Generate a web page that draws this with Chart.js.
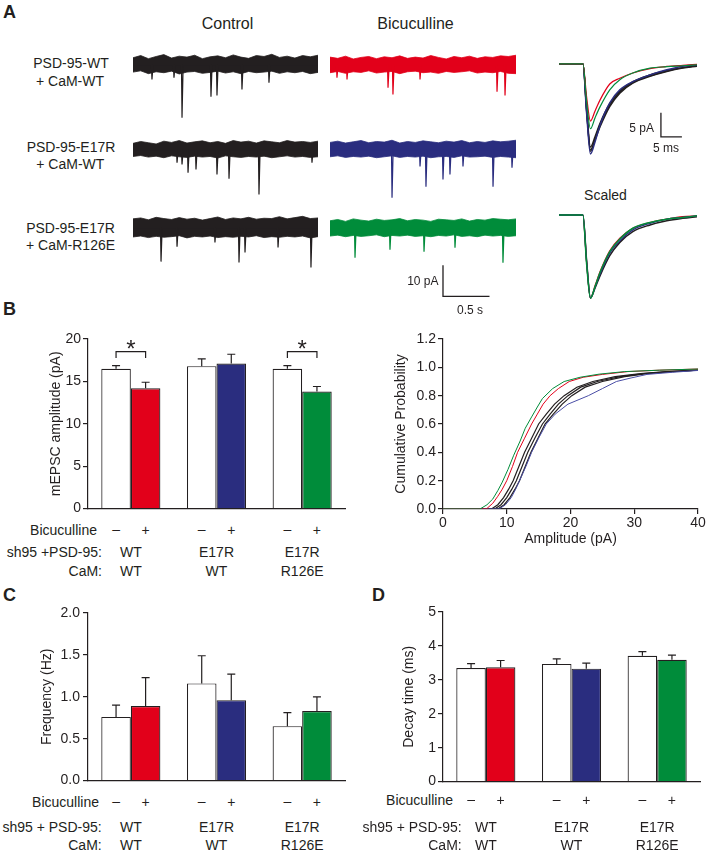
<!DOCTYPE html>
<html><head><meta charset="utf-8">
<script src="https://cdn.jsdelivr.net/npm/chart.js@4.4.1/dist/chart.umd.min.js"></script>
<style>
html,body{margin:0;padding:0;background:#fff;}
#fig{position:relative;width:709px;height:854px;overflow:hidden;font-family:"Liberation Sans",Arial,sans-serif;color:#231f20;background:#fff;}
#fig canvas{position:absolute;}
.t{position:absolute;line-height:1;white-space:nowrap;}
</style></head><body><div id="fig"></div>
<script>
// ---------------- DATA ----------------
const groupPSD = ['WT', 'E17R', 'E17R'];
const groupCaM = ['WT', 'WT', 'R126E'];
const bicSigns = ['\u2013', '+'];
const bicColors = ['#e2001a', '#2a2d7f', '#008c3a'];

// B: mEPSC amplitude (pA)
const ampCtrl = [16.5, 16.8, 16.5];
const ampBic = [14.2, 17.1, 13.8];
const ampCtrlErr = [0.35, 0.85, 0.35];
const ampBicErr = [0.7, 1.1, 0.6];
const sigGroups = [0, 2];
const sigBracketTop = 18.5, sigBracketLeg = 17.75;

// C: frequency (Hz)
const freqCtrl = [0.76, 1.16, 0.65];
const freqBic = [0.89, 0.96, 0.83];
const freqCtrlErr = [0.14, 0.33, 0.16];
const freqBicErr = [0.34, 0.31, 0.17];

// D: decay time (ms)
const decayCtrl = [3.35, 3.47, 3.71];
const decayBic = [3.37, 3.33, 3.59];
const decayCtrlErr = [0.13, 0.15, 0.12];
const decayBicErr = [0.2, 0.16, 0.14];

// B right: cumulative probability curves (amplitude pA, probability)
const cdfGreenX = [0,5.8,6.9,7.8,8.6,9.3,10.2,11.1,12.1,12.9,13.9,14.8,15.6,17.2,19.0,21.5,24.5,28.5,34,40];
const cdfGreenY = [0,0,0.03,0.07,0.13,0.19,0.28,0.38,0.48,0.57,0.65,0.72,0.78,0.85,0.9,0.93,0.952,0.97,0.98,0.988];
const cdfRedX = [0,6.8,7.8,8.6,9.3,10.0,10.9,11.7,12.8,13.9,14.8,15.7,16.8,18.1,19.8,22,25,29,34,40];
const cdfRedY = [0,0,0.04,0.09,0.14,0.2,0.3,0.4,0.5,0.6,0.67,0.74,0.8,0.85,0.9,0.93,0.95,0.97,0.98,0.988];
const cdfBlueX = [0,8.8,9.8,10.7,11.4,12.0,13.0,13.9,15.0,16.2,17.6,19.6,22.8,25.0,27.2,29.5,32,36,40];
const cdfBlueY = [0,0,0.03,0.08,0.14,0.2,0.3,0.4,0.5,0.6,0.67,0.74,0.8,0.85,0.9,0.925,0.95,0.965,0.978];
const cdfBlackAX = [0,7.6,8.6,9.5,10.3,11.0,11.9,12.8,13.9,15.0,16.2,17.5,19.0,21,23.5,27,31,35,40];
const cdfBlackBX = [0,8.1,9.1,10.0,10.8,11.5,12.4,13.3,14.4,15.6,16.8,18.1,19.6,21.6,24.2,27.8,31.5,35.5,40];
const cdfBlackCX = [0,8.6,9.6,10.5,11.3,12.0,12.9,13.8,14.9,16.0,17.3,18.7,20.2,22.3,25.0,28.5,32,36,40];
const cdfBlackY = [0,0,0.03,0.08,0.14,0.2,0.3,0.4,0.5,0.6,0.67,0.74,0.8,0.86,0.9,0.935,0.956,0.97,0.981];

// A: example traces (2 s each). Noise envelope (pA) and events (s, pA)
const traceDur = 2;
const ctrl1Hi = [2.2,2.9,1.9,2.6,3.2,2.1,2.7,2.4,3.0,1.9,2.5,2.8,2.2,3.1,2.4,2.0,2.9,2.6,3.3,2.3,2.7,2.1,2.9,2.5,3.0];
const ctrl1Lo = [-2.4,-2.0,-2.9,-2.3,-2.6,-2.1,-3.0,-2.4,-2.2,-2.8,-2.5,-2.1,-2.7,-2.3,-2.9,-2.2,-2.6,-2.4,-2.1,-2.8,-2.3,-2.6,-2.2,-2.9,-2.5];
const bic1Hi = [2.4,2.0,2.7,1.8,2.3,2.6,1.9,2.5,2.2,2.8,2.0,2.4,2.1,2.9,2.3,1.8,2.6,2.2,2.7,2.0,2.5,2.3,2.8,2.6,3.0];
const bic1Lo = [-2.6,-2.2,-2.8,-2.3,-2.5,-2.0,-2.7,-2.4,-2.2,-2.9,-2.3,-2.1,-2.6,-2.4,-2.8,-2.2,-2.5,-2.3,-2.0,-2.7,-2.4,-2.6,-2.2,-2.8,-2.9];
const ctrl2Hi = [2.0,2.6,2.2,1.8,2.7,2.3,2.9,2.1,2.5,2.8,2.2,2.6,2.0,2.9,2.4,2.7,2.1,2.8,2.5,2.2,2.9,2.4,2.6,2.3,2.7];
const ctrl2Lo = [-2.2,-1.9,-2.4,-2.1,-2.6,-2.0,-2.3,-2.5,-2.1,-2.4,-2.2,-2.7,-2.0,-2.3,-2.5,-2.2,-2.4,-2.1,-2.6,-2.3,-2.0,-2.4,-2.2,-2.5,-2.3];
const bic2Hi = [2.3,2.7,2.1,2.5,2.9,2.2,2.6,2.4,3.0,2.1,2.6,2.3,2.8,2.5,2.2,2.7,2.4,2.9,2.2,2.6,2.3,2.8,2.5,2.7,3.0];
const bic2Lo = [-2.3,-2.0,-2.5,-2.2,-2.4,-2.1,-2.6,-2.3,-2.0,-2.5,-2.2,-2.4,-2.1,-2.6,-2.3,-2.2,-2.5,-2.0,-2.4,-2.3,-2.1,-2.5,-2.2,-2.4,-2.6];
const ctrl3Hi = [2.8,3.1,2.5,3.3,2.9,2.6,3.2,2.7,3.0,2.4,2.9,3.4,2.6,3.1,2.8,3.3,2.7,3.0,2.9,3.5,2.8,3.2,3.6,2.9,3.1];
const ctrl3Lo = [-3.0,-2.7,-3.2,-2.8,-3.1,-2.9,-2.6,-3.3,-2.8,-3.0,-2.7,-3.2,-2.9,-3.1,-2.8,-3.0,-2.6,-3.2,-2.9,-3.1,-2.8,-3.0,-2.7,-3.3,-2.9];
const bic3Hi = [2.2,2.6,2.0,2.8,2.4,2.1,2.7,2.3,2.5,2.9,2.2,2.6,2.4,2.0,2.7,2.5,2.3,2.8,2.1,2.6,2.4,2.9,2.7,2.5,2.8];
const bic3Lo = [-2.7,-2.4,-2.9,-2.5,-2.8,-2.6,-2.3,-2.9,-2.5,-2.7,-2.4,-2.8,-2.6,-2.9,-2.5,-2.7,-2.3,-2.8,-2.6,-2.9,-2.4,-2.7,-2.5,-2.8,-2.6];

const ctrl1Times = [0.205,0.443,0.53,0.843,0.908,1.178,1.47];
const ctrl1Amps = [4.8,4.2,17.0,10.3,9.9,8.0,5.8];
const bic1Times = [0.075,0.183,0.624,0.677,0.968,1.796,1.882];
const bic1Amps = [4.2,4.8,7.4,9.6,4.8,8.7,9.9];
const ctrl2Times = [0.476,0.53,0.595,0.681,0.908,1.038,1.362,1.935];
const ctrl2Amps = [4.2,4.8,7.4,6.4,8.0,9.3,14.4,4.2];
const bic2Times = [0.667,0.968,1.032,1.215,1.29,1.43,1.753,1.957];
const bic2Amps = [15.4,5.4,11.9,9.6,8.0,5.4,11.9,5.8];
const ctrl3Times = [0.303,0.476,0.886,1.146,1.211,1.568,1.924];
const ctrl3Amps = [10.9,6.1,4.8,11.2,8.0,6.4,12.8];
const bic3Times = [0.269,0.645,1.011,1.344,1.86];
const bic3Amps = [9.6,7.1,7.7,6.4,11.2];

// scale bar (traces): 0.5 s, 10 pA
const barTime = [1.215, 1.715];
const barAmp = [-12, -22];

// A right: averaged mEPSCs (ms, pA)
const avgTime = [0,5.7,6.6,7.5,8.6,9.8,12.1,14.5,17.6,21.7,25.7,29.5,32.9];
const avgRed = [0,0,-7,-11.9,-9.8,-7.5,-4.2,-3.0,-1.9,-1.0,-0.55,-0.3,-0.1];
const avgGreen = [0,0,-8,-13.5,-11.2,-8.9,-5.4,-3.3,-1.9,-0.9,-0.6,-0.4,-0.2];
const avgBlue = [0,0,-10.5,-18.75,-16.2,-12.7,-8.1,-5.4,-3.7,-2.3,-1.25,-0.5,-0.2];
const avgBlack1 = [0,0,-10,-17.9,-15.8,-13.1,-8.9,-6.1,-4.0,-2.6,-1.6,-0.9,-0.5];
const avgBlack2 = [0,0,-9.5,-17.3,-15.1,-12.3,-8.3,-5.7,-3.7,-2.3,-1.4,-0.8,-0.4];
const avgBlack3 = [0,0,-9.8,-18.2,-15.6,-12.6,-8.6,-5.9,-3.9,-2.5,-1.5,-0.8,-0.4];
const avgBarTime = [24.3, 29.3];
const avgBarAmp = [-10.2, -15.2];
// scaled (normalised)
const scRed = [0,0,-0.58,-1,-0.85,-0.68,-0.43,-0.28,-0.16,-0.09,-0.05,-0.02,-0.01];
const scGreen = [0,0,-0.6,-1,-0.86,-0.69,-0.44,-0.29,-0.16,-0.09,-0.05,-0.03,-0.01];
const scBlue = [0,0,-0.57,-1,-0.87,-0.71,-0.46,-0.31,-0.18,-0.1,-0.05,-0.03,-0.01];
const scBlack = [0,0,-0.56,-1,-0.88,-0.73,-0.49,-0.33,-0.2,-0.12,-0.07,-0.04,-0.02];

// ---------------- RENDER ----------------
const INK = '#231f20';
Chart.defaults.font.family = '"Liberation Sans", Arial, sans-serif';
Chart.defaults.font.size = 14;
Chart.defaults.color = INK;
const fig = document.getElementById('fig');

function addCanvas(left, top, w, h) {
  const c = document.createElement('canvas');
  c.width = w; c.height = h;
  c.style.left = left + 'px'; c.style.top = top + 'px';
  c.style.width = w + 'px'; c.style.height = h + 'px';
  fig.appendChild(c);
  return c;
}
function addText(text, x, y, align, size, bold) {
  const d = document.createElement('div');
  d.className = 't';
  d.textContent = text;
  d.style.left = x + 'px'; d.style.top = y + 'px';
  d.style.fontSize = (size || 14) + 'px';
  if (bold) d.style.fontWeight = 'bold';
  const ax = align === 'right' ? '-100%' : align === 'left' ? '0' : '-50%';
  d.style.transform = 'translate(' + ax + ',-50%)';
  fig.appendChild(d);
  return d;
}
const baseOpts = () => ({
  responsive: false, animation: false, devicePixelRatio: 1,
  plugins: { legend: { display: false }, tooltip: { enabled: false } }
});
const pts = (xs, ys) => xs.map((x, i) => ({ x: x, y: ys[i] }));

// ---- traces ----
function trace(left, top, w, h, yMin, color, hi, lo, times, amps, extra) {
  const c = addCanvas(left, top, w, h);
  const n = hi.length;
  const band = hi.map((v, i) => ({ x: i * traceDur / (n - 1), y: v }));
  const bandLo = lo.map((v, i) => ({ x: i * traceDur / (n - 1), y: v }));
  const spk = [{ x: 0, y: 0 }];
  times.forEach((t, i) => { spk.push({ x: t - 0.006, y: 0 }, { x: t, y: -amps[i] }, { x: t + 0.012, y: 0 }); });
  spk.push({ x: traceDur, y: 0 });
  const datasets = (extra || []).concat([
    { data: spk, borderColor: color, borderWidth: 1.2, pointRadius: 0, fill: false },
    { data: band, borderColor: color, borderWidth: 0.8, pointRadius: 0, backgroundColor: color, fill: '+1' },
    { data: bandLo, borderColor: color, borderWidth: 0.8, pointRadius: 0, fill: false }
  ]);
  const o = baseOpts();
  o.layout = { padding: 0 };
  o.scales = { x: { type: 'linear', display: false, min: 0, max: traceDur }, y: { display: false, min: yMin, max: 5 } };
  new Chart(c, { type: 'line', data: { datasets }, options: o });
}
trace(133, 49, 185, 78, -20, INK, ctrl1Hi, ctrl1Lo, ctrl1Times, ctrl1Amps);
trace(330, 49, 186, 78, -20, bicColors[0], bic1Hi, bic1Lo, bic1Times, bic1Amps);
trace(133, 134, 185, 78, -20, INK, ctrl2Hi, ctrl2Lo, ctrl2Times, ctrl2Amps);
trace(330, 134, 186, 78, -20, bicColors[1], bic2Hi, bic2Lo, bic2Times, bic2Amps);
trace(133, 212, 185, 78, -20, INK, ctrl3Hi, ctrl3Lo, ctrl3Times, ctrl3Amps);
trace(330, 212, 186, 100, -27, bicColors[2], bic3Hi, bic3Lo, bic3Times, bic3Amps,
  [{ data: [{ x: barTime[0], y: barAmp[0] }, { x: barTime[0], y: barAmp[1] }, { x: barTime[1], y: barAmp[1] }],
     borderColor: INK, borderWidth: 1.3, pointRadius: 0, fill: false }]);

// ---- averaged traces ----
function avg(left, top, w, h, yMin, yMax, sets, extra) {
  const c = addCanvas(left, top, w, h);
  const datasets = (extra || []).concat(sets.map(s => ({
    data: pts(avgTime, s.v), borderColor: s.c, borderWidth: s.w || 1.2, pointRadius: 0,
    fill: false, cubicInterpolationMode: 'monotone'
  })));
  const o = baseOpts();
  o.layout = { padding: 0 };
  o.scales = { x: { type: 'linear', display: false, min: 0, max: 32.9 }, y: { display: false, min: yMin, max: yMax } };
  new Chart(c, { type: 'line', data: { datasets }, options: o });
}
avg(559, 59, 138, 101, -20, 1, [
  { v: avgGreen, c: bicColors[2] }, { v: avgRed, c: bicColors[0] }, { v: avgBlue, c: bicColors[1], w: 1.5 },
  { v: avgBlack1, c: INK, w: 1.4 }, { v: avgBlack2, c: INK, w: 1.4 }, { v: avgBlack3, c: INK, w: 1.4 }
], [{ data: [{ x: avgBarTime[0], y: avgBarAmp[0] }, { x: avgBarTime[0], y: avgBarAmp[1] }, { x: avgBarTime[1], y: avgBarAmp[1] }],
      borderColor: INK, borderWidth: 1.3, pointRadius: 0, fill: false }]);
avg(559, 210, 138, 93, -1.06, 0.06, [
  { v: scGreen, c: bicColors[2], w: 1.5 }, { v: scBlue, c: bicColors[1], w: 1.3 }, { v: scRed, c: bicColors[0] },
  { v: scBlack, c: INK, w: 1.5 }
]);

// ---- bar charts ----
const errPlugin = {
  id: 'errbars',
  afterDatasetsDraw(chart, args, opts) {
    const ctx = chart.ctx, y = chart.scales.y;
    ctx.save(); ctx.strokeStyle = INK; ctx.lineWidth = 1.2;
    opts.errs.forEach((errs, di) => {
      const meta = chart.getDatasetMeta(di);
      meta.data.forEach((bar, i) => {
        const v = chart.data.datasets[di].data[i];
        const yt = y.getPixelForValue(v + errs[i]);
        ctx.beginPath();
        ctx.moveTo(bar.x, bar.y); ctx.lineTo(bar.x, yt);
        ctx.moveTo(bar.x - 4, yt); ctx.lineTo(bar.x + 4, yt);
        ctx.stroke();
      });
    });
    ctx.restore();
  }
};
const bracketPlugin = {
  id: 'brackets',
  afterDatasetsDraw(chart, args, opts) {
    if (!opts.groups) return;
    const ctx = chart.ctx, y = chart.scales.y;
    const m0 = chart.getDatasetMeta(0), m1 = chart.getDatasetMeta(1);
    ctx.save(); ctx.strokeStyle = INK; ctx.lineWidth = 1.2;
    opts.groups.forEach(g => {
      const x0 = m0.data[g].x, x1 = m1.data[g].x;
      const yt = y.getPixelForValue(opts.top), yl = y.getPixelForValue(opts.leg);
      ctx.beginPath(); ctx.moveTo(x0, yl); ctx.lineTo(x0, yt); ctx.lineTo(x1, yt); ctx.lineTo(x1, yl); ctx.stroke();
    });
    ctx.restore();
  }
};
function barChart(p) {
  const c = addCanvas(p.left, p.top, p.w, p.h);
  const o = baseOpts();
  o.layout = { padding: { top: 14, right: 5, left: 0, bottom: 0 } };
  o.plugins.errbars = { errs: [p.ctrlErr, p.bicErr] };
  o.plugins.brackets = p.brackets || {};
  o.scales = {
    x: { grid: { display: false }, ticks: { display: false }, border: { display: true, color: INK, width: 1.2 },
         afterFit: s => { s.height = 10; } },
    y: { min: 0, max: p.yMax,
         ticks: { stepSize: p.step, padding: p.tickPad, color: INK, font: { size: 14 }, callback: v => Number(v).toFixed(p.dec) },
         grid: { drawOnChartArea: false, drawTicks: true, tickLength: 5, color: INK, lineWidth: 1.2 },
         border: { color: INK, width: 1.2 },
         title: { display: true, text: p.title, color: INK, font: { size: 14 }, padding: { top: 4, bottom: 4 } },
         afterFit: s => { s.width = p.yW; } }
  };
  const common = { borderColor: INK, borderWidth: 1.2, borderSkipped: 'start', categoryPercentage: 0.69, barPercentage: 1 };
  const ch = new Chart(c, {
    type: 'bar',
    data: { labels: groupPSD.map((g, i) => g + ' / ' + groupCaM[i]), datasets: [
      Object.assign({ data: p.ctrl, backgroundColor: '#ffffff' }, common),
      Object.assign({ data: p.bic, backgroundColor: bicColors }, common)
    ] },
    options: o,
    plugins: [errPlugin, bracketPlugin]
  });
  // labels under the axis, aligned to the bars drawn by Chart.js
  const m0 = ch.getDatasetMeta(0), m1 = ch.getDatasetMeta(1);
  addText('Bicuculline', p.bicRight, p.signY, 'right');
  groupPSD.forEach((g, i) => {
    const x0 = p.left + m0.data[i].x, x1 = p.left + m1.data[i].x;
    addText(bicSigns[0], x0, p.signY - 1, 'center');
    addText(bicSigns[1], x1, p.signY, 'center');
    const gc = (x0 + x1) / 2;
    addText(g, gc, p.psdY, 'center');
    addText(groupCaM[i], gc, p.camY, 'center');
  });
  addText(p.psdLabel, p.rowRight, p.psdY, 'right');
  addText('CaM:', p.rowRight, p.camY, 'right');
  return ch;
}

const chB = barChart({ left: 44, top: 325, w: 306, h: 194, yW: 44, tickPad: 2,
  ctrl: ampCtrl, bic: ampBic, ctrlErr: ampCtrlErr, bicErr: ampBicErr, yMax: 20, step: 5, dec: 0,
  title: 'mEPSC amplitude (pA)', brackets: { groups: sigGroups, top: sigBracketTop, leg: sigBracketLeg },
  bicRight: 97, signY: 530, psdY: 552, camY: 571, rowRight: 102, psdLabel: 'sh95 +PSD-95:' });
barChart({ left: 35, top: 599, w: 315, h: 193, yW: 53, tickPad: 3,
  ctrl: freqCtrl, bic: freqBic, ctrlErr: freqCtrlErr, bicErr: freqBicErr, yMax: 2, step: 0.5, dec: 1,
  title: 'Frequency (Hz)',
  bicRight: 99, signY: 801.7, psdY: 826.7, camY: 845, rowRight: 101.7, psdLabel: 'sh95 + PSD-95:' });
barChart({ left: 397, top: 598, w: 308, h: 194, yW: 46, tickPad: 2,
  ctrl: decayCtrl, bic: decayBic, ctrlErr: decayCtrlErr, bicErr: decayBicErr, yMax: 5, step: 1, dec: 0,
  title: 'Decay time (ms)',
  bicRight: 453, signY: 800, psdY: 826.7, camY: 845, rowRight: 461.7, psdLabel: 'sh95 + PSD-95:' });

// significance stars centred on the brackets
(function () {
  const m0 = chB.getDatasetMeta(0), m1 = chB.getDatasetMeta(1);
  const ys = 325 + chB.scales.y.getPixelForValue(sigBracketTop);
  sigGroups.forEach(g => {
    addText('*', 44 + (m0.data[g].x + m1.data[g].x) / 2, ys - 3, 'center', 24);
  });
})();

// ---- cumulative probability ----
(function () {
  const c = addCanvas(389, 325, 319, 227);
  const o = baseOpts();
  o.layout = { padding: { top: 14, right: 10, left: 0, bottom: 0 } };
  o.scales = {
    x: { type: 'linear', min: 0, max: 40,
         ticks: { stepSize: 10, padding: 1, color: INK, font: { size: 14 } },
         grid: { drawOnChartArea: false, drawTicks: true, tickLength: 5, color: INK, lineWidth: 1.2 },
         border: { color: INK, width: 1.2 },
         title: { display: true, text: 'Amplitude (pA)', color: INK, font: { size: 14 }, padding: { top: 2, bottom: 4 } },
         afterFit: s => { s.height = 43; } },
    y: { min: 0, max: 1.2,
         ticks: { stepSize: 0.2, padding: 2, color: INK, font: { size: 14 }, callback: v => Number(v).toFixed(1) },
         grid: { drawOnChartArea: false, drawTicks: true, tickLength: 5, color: INK, lineWidth: 1.2 },
         border: { color: INK, width: 1.2 },
         title: { display: true, text: 'Cumulative Probability', color: INK, font: { size: 14 }, padding: { top: 4, bottom: 4 } },
         afterFit: s => { s.width = 54; } }
  };
  const ln = (xs, ys, col, w) => ({ data: pts(xs, ys), borderColor: col, borderWidth: w, pointRadius: 0, fill: false, tension: 0 });
  new Chart(c, { type: 'line', data: { datasets: [
    ln(cdfGreenX, cdfGreenY, bicColors[2], 1),
    ln(cdfRedX, cdfRedY, bicColors[0], 1),
    ln(cdfBlueX, cdfBlueY, '#4a4ea6', 1),
    ln(cdfBlackAX, cdfBlackY, INK, 1.2),
    ln(cdfBlackBX, cdfBlackY, INK, 1.2),
    ln(cdfBlackCX, cdfBlackY, INK, 1.2)
  ] }, options: o });
})();

// ---- text ----
addText('A', 3, 11.5, 'left', 18, true);
addText('B', 3, 308.7, 'left', 18, true);
addText('C', 3, 595, 'left', 18, true);
addText('D', 372, 595, 'left', 18, true);
addText('Control', 227.5, 24, 'center', 16);
addText('Bicuculline', 415.5, 24, 'center', 16);
addText('PSD-95-WT', 71, 62.8, 'center');
addText('+ CaM-WT', 70, 81, 'center');
addText('PSD-95-E17R', 71, 147, 'center');
addText('+ CaM-WT', 70.3, 164, 'center');
addText('PSD-95-E17R', 70.5, 228, 'center');
addText('+ CaM-R126E', 70.5, 244.6, 'center');
addText('Scaled', 605.5, 195, 'center');
addText('5 pA', 654, 127.5, 'right', 12);
addText('5 ms', 666, 148, 'center', 12);
addText('10 pA', 438.5, 281, 'right', 12);
addText('0.5 s', 470, 310, 'center', 12);
</script></body></html>
